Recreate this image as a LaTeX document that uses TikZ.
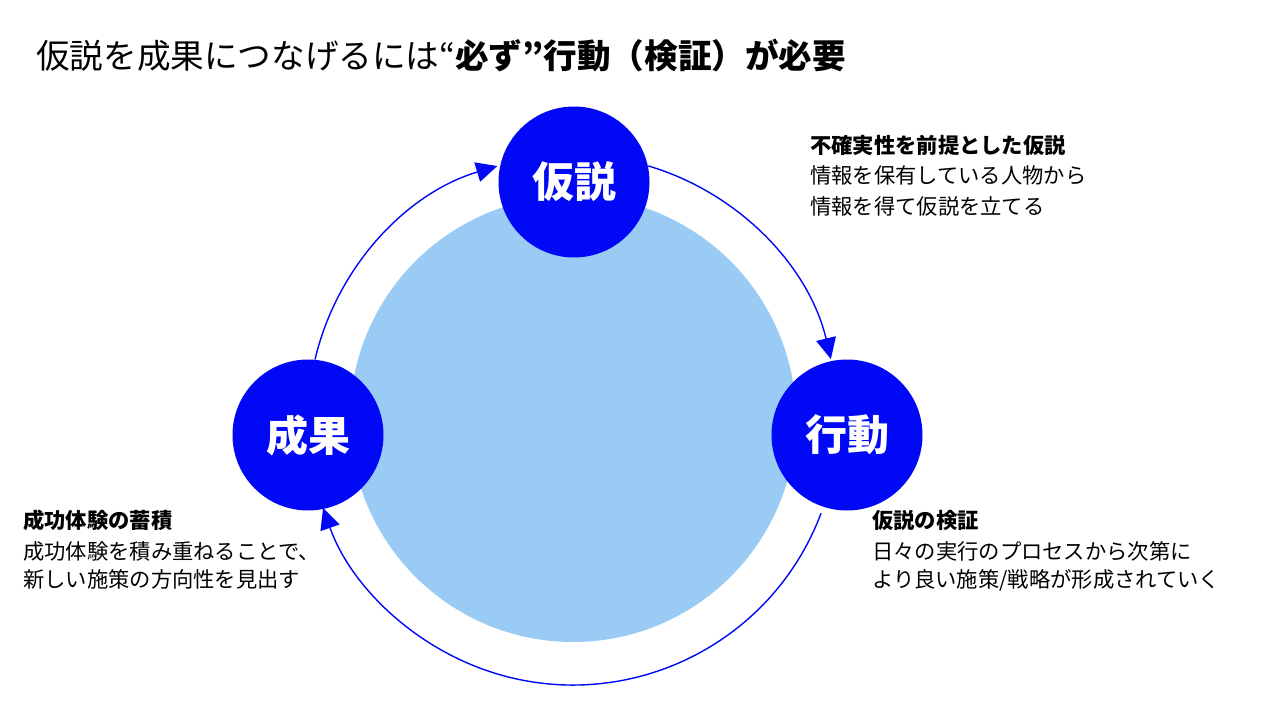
\documentclass[tikz,border=0pt]{standalone}
\usepackage{fontspec}
\setmainfont{Noto Sans CJK JP}
\usetikzlibrary{arrows.meta}
\definecolor{dkblue}{RGB}{0,8,245}
\definecolor{ltblue}{RGB}{153,203,245}
\begin{document}
\begin{tikzpicture}[x=1pt,y=-1pt,
  hub/.style={circle, fill=dkblue, minimum size=151pt, inner sep=0pt, text=white,
    font=\fontsize{42}{48}\selectfont\bfseries},
  ring/.style={draw=dkblue, line width=1.4pt, -{Triangle[length=21pt,width=20pt]}},
  notehead/.style={anchor=base west, inner sep=0pt, font=\fontsize{21.3}{24}\selectfont\bfseries},
  noteline/.style={anchor=base west, inner sep=0pt, font=\fontsize{21.3}{24}\selectfont}
]
\useasboundingbox (0,0) rectangle (1269,719);
\fill[white] (0,0) rectangle (1269,719);

\node[anchor=west, inner sep=0pt, font=\fontsize{33.6}{38}\selectfont] (title) at (36,56)
  {仮説を成果につなげるには“{\bfseries 必ず”行動（検証）が必要}};

\node[circle, fill=ltblue, minimum size=446pt, inner sep=0pt] (core) at (573,419) {};
\coordinate (ctr) at (573,420);

\node[hub] (hyp) at (574,182) {仮説};
\node[hub] (act) at (847,435) {行動};
\node[hub] (res) at (308,435) {成果};

\draw[ring] ([shift={(193.2:265)}]ctr) arc[start angle=193.2, end angle=253.4, radius=265];
\draw[ring] ([shift={(286.5:265)}]ctr) arc[start angle=286.5, end angle=346.7, radius=265];
\draw[ring] ([shift={(20.6:265)}]ctr) arc[start angle=20.6, end angle=160.6, radius=265];

\node[notehead] (h1) at (810,154) {不確実性を前提とした仮説};
\node[noteline] (h2) at (810,184) {情報を保有している人物から};
\node[noteline] (h3) at (810,215) {情報を得て仮説を立てる};

\node[notehead] (a1) at (872,528) {仮説の検証};
\node[noteline] (a2) at (872,559) {日々の実行のプロセスから次第に};
\node[noteline] (a3) at (872,587) {より良い施策/戦略が形成されていく};

\node[notehead] (r1) at (23,528) {成功体験の蓄積};
\node[noteline] (r2) at (23,559) {成功体験を積み重ねることで、};
\node[noteline] (r3) at (23,587) {新しい施策の方向性を見出す};
\end{tikzpicture}
\end{document}
